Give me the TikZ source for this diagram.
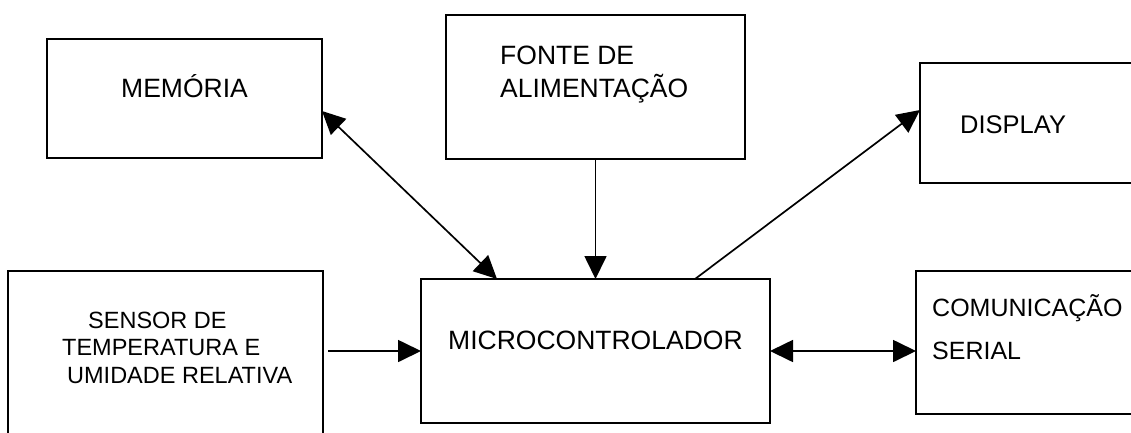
\documentclass[tikz,border=0pt]{standalone}
\usepackage{fontspec}
\setmainfont{Liberation Sans}
\usetikzlibrary{arrows.meta}
\begin{document}
\begin{tikzpicture}[x=1pt,y=-1pt,
  box/.style={draw, line width=2.2pt, rectangle, inner sep=0pt, outer sep=0pt, anchor=north west},
  txt/.style={inner sep=0pt, anchor=base west, align=left, font=\fontsize{26.5}{26.5}\selectfont},
  arr/.style={line width=1.7pt, -{Triangle[length=23pt,width=22pt]}},
  darr/.style={line width=1.7pt, {Triangle[length=23pt,width=22pt]}-{Triangle[length=23pt,width=22pt]}}]
\useasboundingbox (0,0) rectangle (1131,432);
\clip (0,0) rectangle (1131,432);
% boxes
\node[box, minimum width=275pt, minimum height=119pt] (mem) at (47,39) {};
\node[box, minimum width=299pt, minimum height=144pt] (fonte) at (446,15) {};
\node[box, minimum width=230pt, minimum height=120pt] (disp) at (920,63) {};
\node[box, minimum width=315pt, minimum height=180pt] (sensor) at (8,271) {};
\node[box, minimum width=349pt, minimum height=144pt] (micro) at (421,279) {};
\node[box, minimum width=230pt, minimum height=143pt] (comm) at (916,271) {};
% texts (anchored at the baseline of the last line)
\node[txt] (memt) at (121,97) {MEMÓRIA};
\node[txt, font=\fontsize{26.5}{33}\selectfont] (fontet) at (500,97) {FONTE DE\\ALIMENTAÇÃO};
\node[txt, font=\fontsize{25.5}{25.5}\selectfont] (dispt) at (960,133) {DISPLAY};
\node[txt, font=\fontsize{23.5}{27.5}\selectfont] (sensort) at (62,383) {\hspace*{26pt}SENSOR DE\\TEMPERATURA E\\\hspace*{5pt}UMIDADE RELATIVA};
\node[txt] (microt) at (448,349) {MICROCONTROLADOR};
\node[txt, font=\fontsize{25}{43}\selectfont] (commt) at (932,359) {COMUNICAÇÃO\\SERIAL};
% connectors
\draw[darr] ([yshift=-12.5pt]mem.east) -- ([xshift=76pt]micro.north west);
\draw[arr] (fonte.south) -- (micro.north);
\draw[arr] ([xshift=274pt]micro.north west) -- ([yshift=13pt]disp.west);
\draw[arr] ([xshift=5pt]sensor.east |- micro.west) -- (micro.west);
\draw[darr] (micro.east) -- (micro.east -| comm.west);
\end{tikzpicture}
\end{document}
